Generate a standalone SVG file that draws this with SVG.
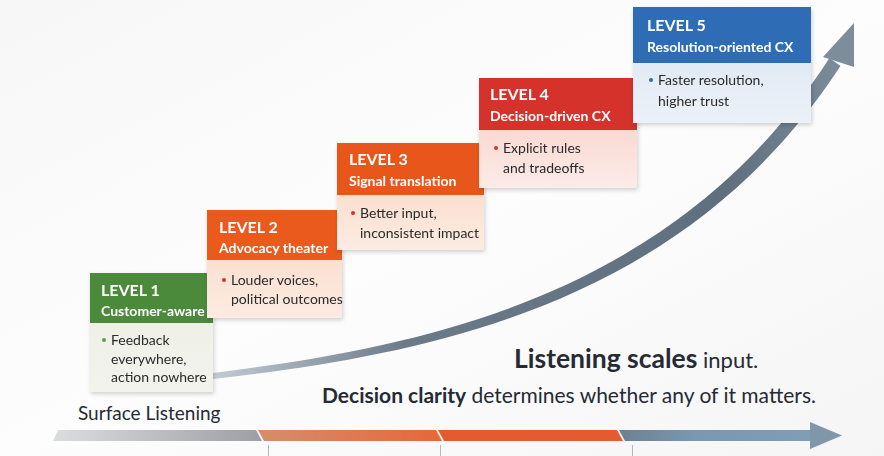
<svg xmlns="http://www.w3.org/2000/svg" width="884" height="456" viewBox="0 0 884 456">
<defs>
<style>
.hd{font-family:Lato,"Open Sans",sans-serif;font-weight:700;fill:#fff}
.lv{font-size:16px}
.nm{font-size:14px}
.bd{font-family:Lato,"Open Sans",sans-serif;font-size:14px;fill:#2a2a2a}
.tx{font-family:Lato,"Open Sans",sans-serif;fill:#262a33}
</style>
<filter id="sh" x="-10%" y="-10%" width="130%" height="130%">
<feDropShadow dx="1" dy="2" stdDeviation="2" flood-color="#000" flood-opacity="0.18"/>
</filter>
<linearGradient id="bg" x1="0" y1="0" x2="1" y2="1">
<stop offset="0" stop-color="#f7f7f7"/><stop offset="0.5" stop-color="#fdfdfd"/><stop offset="1" stop-color="#f5f5f6"/>
</linearGradient>
<linearGradient id="cv" x1="213" y1="0" x2="855" y2="0" gradientUnits="userSpaceOnUse">
<stop offset="0" stop-color="#c4ccd4"/><stop offset="0.3" stop-color="#6b7a89"/><stop offset="0.8" stop-color="#5f6f7e"/><stop offset="1" stop-color="#7f8f9c"/>
</linearGradient>
<linearGradient id="g1" x1="0" x2="1"><stop offset="0" stop-color="#dcdddf"/><stop offset="1" stop-color="#9c9ea4"/></linearGradient>
<linearGradient id="g2" x1="0" x2="1"><stop offset="0" stop-color="#d48e6c"/><stop offset="1" stop-color="#e8663a"/></linearGradient>
<linearGradient id="g4" x1="0" x2="1"><stop offset="0" stop-color="#6d8090"/><stop offset="0.4" stop-color="#7a98b2"/><stop offset="1" stop-color="#7f9db6"/></linearGradient>
<linearGradient id="b1" x1="0" y1="0" x2="0" y2="1"><stop offset="0" stop-color="#eef0e6"/><stop offset="1" stop-color="#f3f3ee"/></linearGradient>
<linearGradient id="b2" x1="0" y1="0" x2="0" y2="1"><stop offset="0" stop-color="#fbe0d0"/><stop offset="1" stop-color="#fcebe2"/></linearGradient>
<linearGradient id="b4" x1="0" y1="0" x2="0" y2="1"><stop offset="0" stop-color="#fad9d3"/><stop offset="1" stop-color="#fcebe7"/></linearGradient>
<linearGradient id="b5" x1="0" y1="0" x2="0" y2="1"><stop offset="0" stop-color="#e1eaf5"/><stop offset="1" stop-color="#ecf1f8"/></linearGradient>
</defs>
<rect width="884" height="456" fill="url(#bg)"/>

<g id="connectors">
<path d="M213,373 C430,346 676,294.5 829.5,58 L840.5,66 C684,305.5 430,354.5 213,379 Z" fill="url(#cv)"/>
<polygon points="854,23 823,57 854,67" fill="#7d8d9a"/>
</g>

<g id="level1" filter="url(#sh)">
<rect x="90" y="323" width="123" height="69" fill="url(#b1)"/>
<rect x="90" y="273" width="123" height="50" fill="#4b8a3a"/>
<text class="hd lv" x="101" y="296">LEVEL 1</text>
<text class="hd nm" x="101" y="316">Customer-aware</text>
<circle cx="104" cy="340" r="2" fill="#5aa040"/>
<text class="bd" x="111" y="345">Feedback</text>
<text class="bd" x="111" y="364">everywhere,</text>
<text class="bd" x="111" y="382">action nowhere</text>
</g>

<g id="level2" filter="url(#sh)">
<rect x="207" y="260" width="135" height="58" fill="url(#b2)"/>
<rect x="207" y="210" width="135" height="50" fill="#ea5a1c"/>
<text class="hd lv" x="219" y="233">LEVEL 2</text>
<text class="hd nm" x="219" y="253">Advocacy theater</text>
<circle cx="224" cy="280" r="2" fill="#d9302a"/>
<text class="bd" x="231" y="285">Louder voices,</text>
<text class="bd" x="231" y="304">political outcomes</text>
</g>

<g id="level3" filter="url(#sh)">
<rect x="337" y="195" width="147" height="55" fill="url(#b2)"/>
<rect x="337" y="143" width="147" height="52" fill="#e8571d"/>
<text class="hd lv" x="349" y="165">LEVEL 3</text>
<text class="hd nm" x="349" y="186">Signal translation</text>
<circle cx="353" cy="213" r="2" fill="#d9302a"/>
<text class="bd" x="360" y="218">Better input,</text>
<text class="bd" x="360" y="238">inconsistent impact</text>
</g>

<g id="level4" filter="url(#sh)">
<rect x="479" y="130" width="158" height="58" fill="url(#b4)"/>
<rect x="479" y="78" width="158" height="52" fill="#d4302b"/>
<text class="hd lv" x="490" y="100">LEVEL 4</text>
<text class="hd nm" x="490" y="121">Decision-driven CX</text>
<circle cx="496" cy="148" r="2" fill="#d9302a"/>
<text class="bd" x="503" y="153">Explicit rules</text>
<text class="bd" x="503" y="173">and tradeoffs</text>
</g>

<g id="level5" filter="url(#sh)">
<rect x="633" y="63" width="178" height="60" fill="url(#b5)"/>
<rect x="633" y="7" width="178" height="56" fill="#2f6db5"/>
<text class="hd lv" x="647" y="31">LEVEL 5</text>
<text class="hd nm" x="647" y="52">Resolution-oriented CX</text>
<circle cx="651" cy="80" r="2" fill="#2f6db5"/>
<text class="bd" x="658" y="85">Faster resolution,</text>
<text class="bd" x="658" y="106">higher trust</text>
</g>

<g id="captions">
<text class="tx" x="514" y="368" font-size="26.5" font-weight="700">Listening scales<tspan font-size="22" font-weight="400"> input.</tspan></text>
<text class="tx" x="322" y="403" font-size="21" font-weight="700">Decision clarity<tspan font-weight="400"> determines whether any of it matters.</tspan></text>
<text class="tx" x="78" y="420" font-size="19" fill="#333">Surface Listening</text>
</g>

<g id="axis">
<polygon points="58,430 256,430 262,441 53,441" fill="url(#g1)"/>
<polygon points="258,430 436,430 442,441 264,441" fill="url(#g2)"/>
<polygon points="438,430 617,430 623,441 444,441" fill="#e65a30"/>
<polygon points="619,430 812,430 812,441 625,441" fill="url(#g4)"/>
<polygon points="810,422 842,435.5 810,449" fill="#7f97a9"/>
<g stroke="#b8b8bc" stroke-width="1">
<line x1="268.5" y1="445" x2="268.5" y2="456"/>
<line x1="440.5" y1="445" x2="440.5" y2="456"/>
<line x1="632.5" y1="445" x2="632.5" y2="456"/>
</g>
</g>
</svg>
